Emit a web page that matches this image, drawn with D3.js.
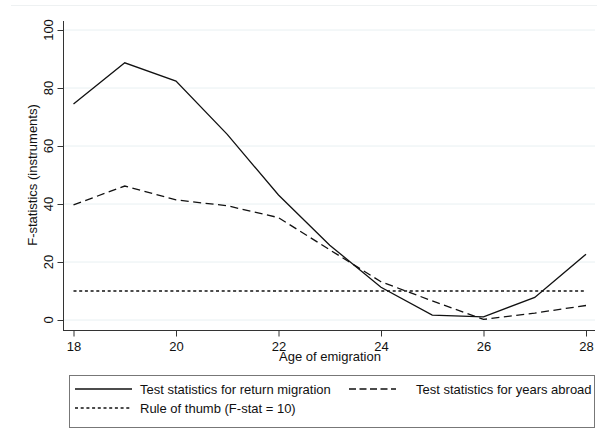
<!DOCTYPE html>
<html><head><meta charset="utf-8">
<script src="https://cdn.jsdelivr.net/npm/d3@7"></script>
<style>body{margin:0;background:#fff}svg{display:block;font-family:"Liberation Sans",Arial,sans-serif}</style>
</head><body><svg id="c" width="597" height="438"></svg>
<script>
const ages = [18,19,20,21,22,23,24,25,26,27,28];
const returnMigration = [74.5,88.7,82.4,64.0,43.1,25.8,11.3,1.7,1.1,7.8,22.7];
const yearsAbroad = [39.7,46.2,41.4,39.4,35.3,24.2,13.2,6.6,0.2,2.4,5.0];
const ruleOfThumb = 10;
const xTicks = [18,20,22,24,26,28];
const yTicks = [0,20,40,60,80,100];
const legendLabels = ["Test statistics for return migration","Test statistics for years abroad","Rule of thumb (F-stat = 10)"];

const svg = d3.select("#c");
const x = d3.scaleLinear().domain([18,28]).range([73.5,586]);
const y = d3.scaleLinear().domain([0,100]).range([320,30]);

// top faint border
svg.append("line").attr("x1",11).attr("x2",597).attr("y1",5.5).attr("y2",5.5).attr("stroke","#eef1f2").attr("stroke-width",1);

// gridlines
svg.append("g").selectAll("line").data(yTicks).join("line")
  .attr("x1",64).attr("x2",595).attr("y1",d=>y(d)).attr("y2",d=>y(d))
  .attr("stroke","#e8f0f2").attr("stroke-width",1);

// axes
const yAxis = d3.axisLeft(y).tickValues(yTicks).tickSize(6).tickPadding(6);
const gy = svg.append("g").attr("transform","translate(63.5,0)").call(yAxis);
gy.select(".domain").attr("d","M0,21V330.5").attr("stroke","#333");
gy.selectAll(".tick line").attr("stroke","#333");
gy.selectAll(".tick text").attr("transform",function(d){return "translate(-15,"+y(d)+") rotate(-90)";})
  .attr("x",0).attr("y",0).attr("dy","0.35em").attr("text-anchor","middle")
  .attr("font-size",13).attr("fill","#111").style("font-family","Liberation Sans, Arial");
gy.selectAll(".tick").attr("transform",null);
gy.selectAll(".tick line").attr("y1",d=>y(d)+0.5).attr("y2",d=>y(d)+0.5);

const xAxis = d3.axisBottom(x).tickValues(xTicks).tickSize(6).tickPadding(5);
const gx = svg.append("g").attr("transform","translate(0,330.5)").call(xAxis);
gx.select(".domain").attr("d","M63,0H595").attr("stroke","#333");
gx.selectAll(".tick line").attr("stroke","#333");
gx.selectAll(".tick text").attr("font-size",13).attr("fill","#111").style("font-family","Liberation Sans, Arial");

// axis titles
svg.append("text").attr("transform","translate(37,175) rotate(-90)").attr("text-anchor","middle")
  .attr("font-size",13).attr("fill","#111").text("F-statistics (instruments)");
svg.append("text").attr("x",330).attr("y",361).attr("text-anchor","middle")
  .attr("font-size",13).attr("fill","#111").text("Age of emigration");

// lines
const line = d3.line().x((d,i)=>x(ages[i])).y(d=>y(d));
svg.append("line").attr("x1",x(18)).attr("x2",x(28)).attr("y1",y(ruleOfThumb)).attr("y2",y(ruleOfThumb))
  .attr("stroke","#111").attr("stroke-width",1.3).attr("stroke-dasharray","3,2.7");
svg.append("path").datum(yearsAbroad).attr("d",line).attr("fill","none")
  .attr("stroke","#111").attr("stroke-width",1.3).attr("stroke-dasharray","8,4.5");
svg.append("path").datum(returnMigration).attr("d",line).attr("fill","none")
  .attr("stroke","#111").attr("stroke-width",1.3);

// legend
const lg = svg.append("g");
lg.append("rect").attr("x",69.5).attr("y",375.5).attr("width",525).attr("height",52)
  .attr("fill","#fff").attr("stroke","#777").attr("stroke-width",1);
const items = [
  {label:legendLabels[0],x1:75,x2:132,tx:140,yy:389,dash:null},
  {label:legendLabels[1],x1:349,x2:396,tx:416,yy:389,dash:"7,3.5"},
  {label:legendLabels[2],x1:75,x2:132,tx:140,yy:408,dash:"3,2.7"}
];
items.forEach(it=>{
  const l = lg.append("line").attr("x1",it.x1).attr("x2",it.x2).attr("y1",it.yy).attr("y2",it.yy)
    .attr("stroke","#111").attr("stroke-width",1.3);
  if(it.dash) l.attr("stroke-dasharray",it.dash);
  lg.append("text").attr("x",it.tx).attr("y",it.yy).attr("dy","0.35em").attr("font-size",13)
    .attr("fill","#111").text(it.label);
});
</script></body></html>
